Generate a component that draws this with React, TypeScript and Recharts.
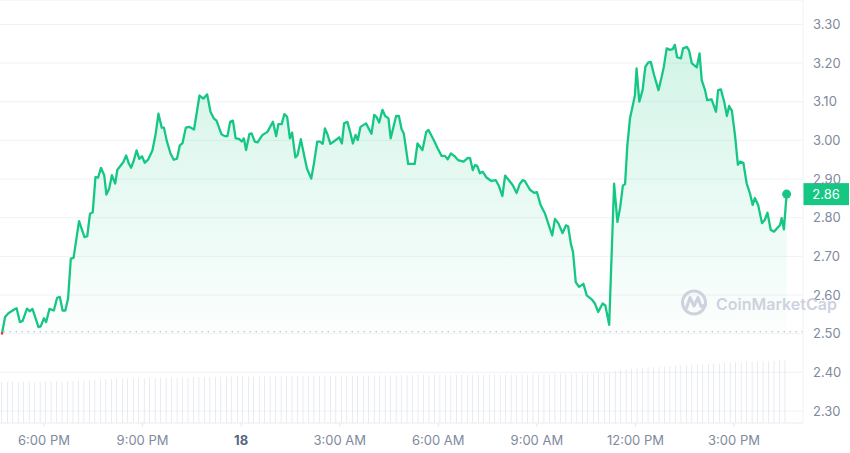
import React from 'react';
import {
  ComposedChart,
  Area,
  Bar,
  XAxis,
  YAxis,
  CartesianGrid,
  ReferenceLine,
  ReferenceDot,
} from 'recharts';

// time = minutes after 00:00 on the 17th
const priceTimes = [
  1003, 1009, 1015, 1027, 1030, 1036, 1041, 1049, 1054, 1059, 1070, 1074, 1080, 1084, 1090, 1098, 1104, 1109, 1114, 1119,
  1124, 1129, 1134, 1144, 1154, 1159, 1164, 1169, 1174, 1179, 1184, 1190, 1194, 1199, 1204, 1210, 1214, 1219, 1225, 1230,
  1235, 1239, 1244, 1249, 1254, 1259, 1264, 1270, 1278, 1284, 1289, 1295, 1299, 1304, 1311, 1317, 1323, 1328, 1333, 1339,
  1345,
  1354, 1364, 1371, 1378, 1384, 1390, 1395, 1404, 1410, 1415, 1420, 1425, 1430, 1436, 1441, 1445, 1449, 1455, 1459, 1465,
  1470, 1479, 1488, 1498, 1504, 1508, 1514, 1519, 1524, 1529, 1533, 1539, 1543, 1549, 1553, 1560, 1568, 1573, 1579, 1584,
  1589, 1593, 1597, 1603, 1611, 1619, 1624, 1628, 1634, 1639, 1644, 1649, 1653, 1658, 1668, 1678, 1683, 1687, 1692, 1698,
  1703, 1709, 1713, 1723,
  1728, 1733, 1737, 1745, 1750, 1757, 1762, 1771, 1778, 1782, 1791, 1799, 1806, 1812, 1817, 1823, 1829, 1836, 1846, 1854,
  1858, 1863, 1867, 1871, 1876, 1881, 1888, 1897, 1905, 1910, 1917, 1922, 1930, 1936, 1943, 1949, 1954, 1958, 1967, 1975,
  1980, 1987, 1995, 2001, 2008, 2013, 2019, 2027, 2033, 2037, 2042, 2046, 2051, 2057, 2065, 2071, 2080, 2086, 2092, 2100,
  2105, 2112,
  2121, 2127, 2132, 2137, 2141, 2145, 2150, 2154, 2159, 2162, 2167, 2173, 2178, 2183, 2188, 2194, 2202, 2208, 2212, 2217,
  2223, 2228, 2232, 2236, 2243, 2247, 2254, 2258, 2263, 2272, 2277, 2281, 2287, 2291, 2299, 2307, 2311, 2316, 2322, 2327,
  2331, 2336, 2342, 2347, 2351, 2357, 2363, 2369, 2374, 2378, 2384, 2391, 2396, 2401, 2407, 2413, 2424, 2427, 2431, 2436,
];

const priceValues = [
  2.498, 2.543, 2.553, 2.564, 2.566, 2.53, 2.533, 2.565, 2.558, 2.564, 2.517, 2.519, 2.54, 2.53, 2.564, 2.56, 2.593, 2.595, 2.56, 2.56,
  2.591, 2.694, 2.696, 2.791, 2.75, 2.752, 2.81, 2.814, 2.905, 2.904, 2.929, 2.91, 2.86, 2.875, 2.91, 2.888, 2.924, 2.933, 2.944, 2.961,
  2.94, 2.929, 2.948, 2.974, 2.952, 2.959, 2.942, 2.95, 2.974, 3.017, 3.069, 3.033, 3.033, 3.0, 2.966, 2.95, 2.953, 2.987, 2.993, 3.033,
  3.035,
  3.028, 3.116, 3.108, 3.119, 3.074, 3.057, 3.051, 3.016, 3.011, 3.011, 3.048, 3.051, 3.005, 3.004, 2.997, 3.005, 2.975, 3.016, 3.018, 2.997,
  2.995, 3.014, 3.022, 3.048, 3.011, 3.042, 3.042, 3.068, 3.061, 3.005, 3.02, 2.956, 2.962, 3.003, 2.975, 2.928, 2.901, 2.941, 2.997, 2.997,
  2.991, 3.031, 3.018, 2.991, 2.999, 3.008, 2.992, 3.044, 3.048, 3.022, 2.992, 3.014, 3.001, 3.035, 3.044, 3.017, 3.066, 3.061, 3.046, 3.079,
  3.063, 3.057, 3.005, 3.063,
  3.063, 3.029, 3.018, 2.939, 2.939, 2.939, 2.992, 2.975, 3.022, 3.027, 3.003, 2.979, 2.96, 2.96, 2.951, 2.966, 2.96, 2.949, 2.945, 2.955,
  2.954, 2.923, 2.936, 2.934, 2.915, 2.919, 2.904, 2.895, 2.897, 2.884, 2.856, 2.909, 2.895, 2.884, 2.864, 2.888, 2.897, 2.895, 2.873, 2.864,
  2.866, 2.832, 2.81, 2.784, 2.754, 2.797, 2.786, 2.76, 2.78, 2.778, 2.733, 2.711, 2.633, 2.621, 2.629, 2.599, 2.589, 2.578, 2.556, 2.578,
  2.573, 2.523,
  2.888, 2.789, 2.826, 2.883, 2.887, 2.984, 3.057, 3.083, 3.117, 3.186, 3.1, 3.13, 3.19, 3.201, 3.203, 3.169, 3.13, 3.165, 3.192, 3.238,
  3.234, 3.236, 3.247, 3.215, 3.212, 3.238, 3.242, 3.232, 3.199, 3.189, 3.225, 3.156, 3.13, 3.104, 3.106, 3.074, 3.13, 3.132, 3.1, 3.063,
  3.089, 3.077, 3.01, 2.937, 2.945, 2.942, 2.889, 2.863, 2.833, 2.851, 2.833, 2.786, 2.794, 2.813, 2.768, 2.764, 2.781, 2.799, 2.77, 2.861,
];

// 24h volume (millions), one bar every 10 minutes
const VOLUME_START = 1003;
const VOLUME_STEP = 10;
const volumeValues = [
  205, 205, 206, 205, 206, 206, 205, 206, 206, 207,
  207, 208, 209, 210, 211, 213, 214, 216, 217, 219,
  220, 221, 222, 222, 223, 224, 224, 225, 226, 226,
  227, 227, 228, 228, 229, 229, 230, 230, 231, 231,
  231, 232, 232, 232, 233, 233, 233, 232, 233, 234,
  234, 234, 235, 235, 235, 235, 236, 236, 236, 236,
  236, 237, 237, 237, 237, 238, 238, 238, 238, 239,
  239, 239, 239, 239, 240, 240, 240, 240, 240, 241,
  241, 241, 241, 241, 242, 242, 242, 242, 242, 243,
  243, 243, 243, 243, 243, 244, 244, 244, 244, 244,
  244, 245, 245, 245, 245, 245, 246, 246, 246, 247,
  250, 256, 261, 265, 268, 271, 273, 275, 277, 279,
  281, 283, 284, 286, 288, 289, 291, 292, 294, 295,
  297, 298, 300, 301, 302, 304, 305, 306, 308, 309,
  310, 312, 313, 314,
];
const volumeTimes = volumeValues.map((_, i) => VOLUME_START + i * VOLUME_STEP);

const openPrice = 2.505;
const priceTicks = [2.3, 2.4, 2.5, 2.6, 2.7, 2.8, 2.9, 3.0, 3.1, 3.2, 3.3];
const timeTicks = [1080, 1260, 1440, 1620, 1800, 1980, 2160, 2340];
const timeTickLabels = ['6:00 PM', '9:00 PM', '18', '3:00 AM', '6:00 AM', '9:00 AM', '12:00 PM', '3:00 PM'];

const GREEN = '#16c784';
const RED = '#ea3943';
const FONT = 'Inter, "Noto Sans", sans-serif';

// merge price + volume rows by time
const rowMap = new Map<number, any>();
priceTimes.forEach((t, i) => {
  rowMap.set(t, { ...(rowMap.get(t) || {}), t, price: priceValues[i] });
});
volumeTimes.forEach((t, i) => {
  rowMap.set(t, { ...(rowMap.get(t) || {}), t, volume: volumeValues[i] });
});
const data = Array.from(rowMap.values()).sort((a, b) => a.t - b.t);

const lastT = priceTimes[priceTimes.length - 1];
const lastPrice = priceValues[priceValues.length - 1];
const maxP = Math.max(...priceValues);
const minP = Math.min(...priceValues);
const splitOffset = (maxP - openPrice) / (maxP - minP);

const XTick = (props: any) => {
  const { x, y, payload } = props;
  const idx = timeTicks.indexOf(payload.value);
  const label = idx >= 0 ? timeTickLabels[idx] : '';
  const bold = label === '18';
  return (
    <text
      x={x}
      y={y}
      dy="0.71em"
      textAnchor="middle"
      fill={bold ? '#58667e' : '#808a9d'}
      fontSize={13}
      fontWeight={bold ? 700 : 400}
      fontFamily={FONT}
    >
      {label}
    </text>
  );
};

const PriceBadge = (props: any) => {
  const { viewBox } = props;
  if (!viewBox) return null;
  const x0 = viewBox.x + viewBox.width;
  const y0 = viewBox.y;
  return (
    <g>
      <rect x={x0} y={y0 - 11} width={46} height={22} fill={GREEN} />
      <text
        x={x0 + 23}
        y={y0}
        dy="0.35em"
        textAnchor="middle"
        fill="#ffffff"
        fontSize={13}
        fontFamily={FONT}
      >
        {lastPrice.toFixed(2)}
      </text>
    </g>
  );
};

const Watermark = () => (
  <svg
    width={850}
    height={453}
    style={{ position: 'absolute', left: 0, top: 0, pointerEvents: 'none' }}
  >
    <circle cx={694} cy={302.5} r={11.5} fill="none" stroke="#cdd2de" strokeWidth={3} />
    <path
      d="M686.5,308 L690,297.5 L694,306 L698,297.5 L701,306.5 L705.5,305"
      fill="none"
      stroke="#cdd2de"
      strokeWidth={3}
      strokeLinejoin="round"
      strokeLinecap="round"
    />
    <text x={716} y={309.5} fontSize={16} fontWeight={600} fill="#cdd2de" fontFamily={FONT}>
      CoinMarketCap
    </text>
  </svg>
);

export default function App() {
  return (
    <div style={{ position: 'absolute', left: 0, top: 0, width: 850, height: 453, background: '#fff', fontFamily: FONT }}>
      <ComposedChart width={850} height={453} data={data} margin={{ top: 0, right: 0, bottom: 0, left: 0 }}>
        <defs>
          <linearGradient id="lineStroke" x1="0" y1="0" x2="0" y2="1">
            <stop offset={0} stopColor={GREEN} />
            <stop offset={splitOffset} stopColor={GREEN} />
            <stop offset={splitOffset} stopColor={RED} />
            <stop offset={1} stopColor={RED} />
          </linearGradient>
          <linearGradient id="areaFill" x1="0" y1="0" x2="0" y2="1">
            <stop offset="0%" stopColor={GREEN} stopOpacity={0.32} />
            <stop offset="100%" stopColor={GREEN} stopOpacity={0.02} />
          </linearGradient>
        </defs>
        <CartesianGrid yAxisId="price" vertical={false} stroke="#eff2f5" strokeWidth={1} />
        <XAxis
          dataKey="t"
          type="number"
          domain={[999.7, 2465.9]}
          ticks={timeTicks}
          tick={<XTick />}
          height={30}
          tickSize={4}
          tickMargin={9}
          axisLine={{ stroke: '#eff2f5' }}
          tickLine={{ stroke: '#e6e9ee' }}
          interval={0}
          allowDataOverflow
        />
        <YAxis
          yAxisId="price"
          orientation="right"
          type="number"
          domain={[2.269, 3.3631]}
          ticks={priceTicks}
          tickFormatter={(v: number) => v.toFixed(2)}
          width={47}
          tickSize={0}
          tickMargin={10}
          tickLine={false}
          axisLine={{ stroke: '#eff2f5' }}
          tick={{ fill: '#808a9d', fontSize: 13, fontFamily: FONT, textAnchor: 'start' }}
          interval={0}
          allowDataOverflow
        />
        <YAxis yAxisId="vol" hide domain={[0, 2115]} />
        <Bar
          yAxisId="vol"
          dataKey="volume"
          fill="#d0d7e5"
          barSize={2.5}
          isAnimationActive={false}
        />
        <ReferenceLine
          yAxisId="price"
          y={openPrice}
          stroke="#a6b0c3"
          strokeDasharray="1.5 4.5"
          strokeWidth={1}
        />
        <Area
          yAxisId="price"
          type="linear"
          dataKey="price"
          connectNulls
          baseValue={openPrice}
          stroke="url(#lineStroke)"
          strokeWidth={2.3}
          strokeLinejoin="round"
          fill="url(#areaFill)"
          dot={false}
          activeDot={false}
          isAnimationActive={false}
        />
        <ReferenceDot yAxisId="price" x={lastT} y={lastPrice} r={4.5} fill={GREEN} stroke="none" />
        <ReferenceLine yAxisId="price" y={lastPrice} stroke="none" label={<PriceBadge />} />
      </ComposedChart>
      <Watermark />
    </div>
  );
}
